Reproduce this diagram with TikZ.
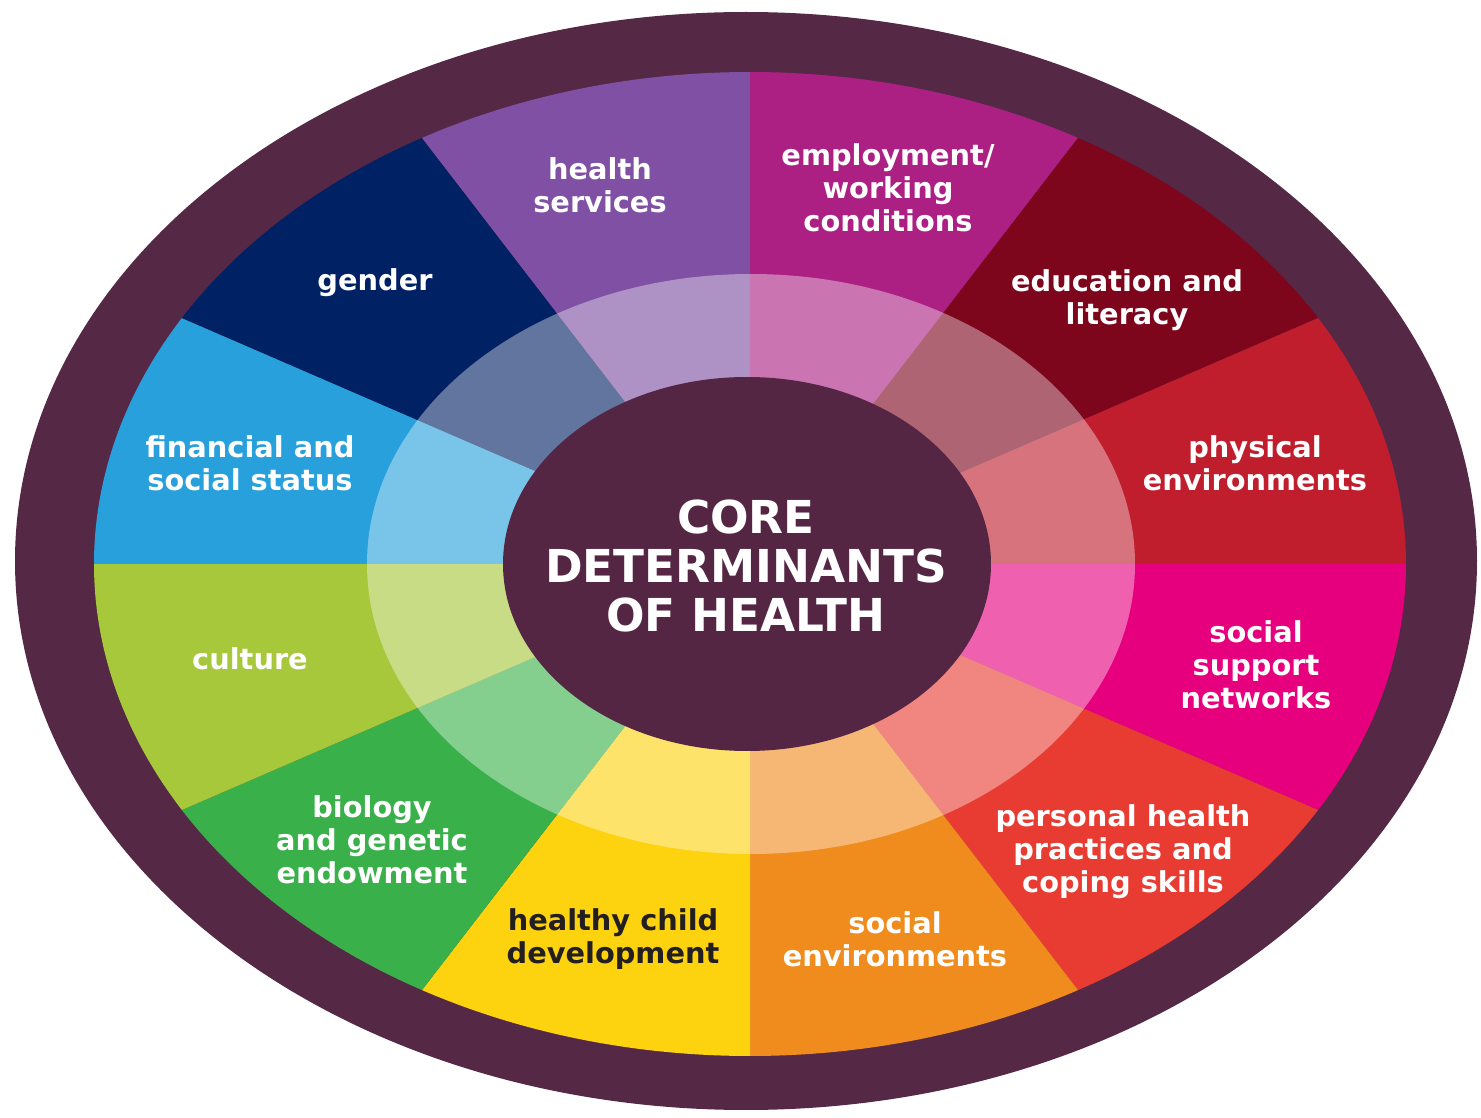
\documentclass[tikz,border=0pt]{standalone}
\usepackage{fontspec}
\newfontfamily\wheelfont{DejaVu Sans}
\definecolor{cRim}{RGB}{85,40,70}
\definecolor{cCore}{RGB}{84,38,68}
\definecolor{cHealth}{RGB}{127,80,163}
\definecolor{cEmploy}{RGB}{172,32,132}
\definecolor{cEduc}{RGB}{125,5,28}
\definecolor{cPhys}{RGB}{192,30,45}
\definecolor{cSupport}{RGB}{230,0,126}
\definecolor{cPractice}{RGB}{232,60,50}
\definecolor{cSocEnv}{RGB}{240,140,30}
\definecolor{cChild}{RGB}{253,210,15}
\definecolor{cBiology}{RGB}{57,176,74}
\definecolor{cCulture}{RGB}{166,200,58}
\definecolor{cFinance}{RGB}{40,160,220}
\definecolor{cGender}{RGB}{0,33,100}
\definecolor{cDark}{RGB}{35,31,32}

\begin{document}
\begin{tikzpicture}[x=0.1mm, y=0.1mm,
  lbl/.style={text=white, align=center, inner sep=0pt, font=\wheelfont\bfseries\fontsize{8.2}{9.4}\selectfont},
  ttl/.style={text=white, align=center, inner sep=0pt, font=\wheelfont\bfseries\fontsize{12.9}{14}\selectfont}]
	\useasboundingbox (0,0) rectangle (1481,1118);
	
	% 1. background and outer rim
	\fill[white] (0,0) rectangle (1481,1118);
	\fill[cRim] (746,557) ellipse[x radius=731, y radius=549];
	
	% 2. twelve sectors (angles in the stretched wheel)
	\begin{scope}[shift={(750,554)}]
		\fill[cEmploy]   (0,0) -- (90:656 and 492)  arc[start angle=90,  end angle=60,  x radius=656, y radius=492] -- cycle;
		\fill[cEduc]     (0,0) -- (60:656 and 492)  arc[start angle=60,  end angle=30,  x radius=656, y radius=492] -- cycle;
		\fill[cPhys]     (0,0) -- (30:656 and 492)  arc[start angle=30,  end angle=0,   x radius=656, y radius=492] -- cycle;
		\fill[cSupport]  (0,0) -- (0:656 and 492)   arc[start angle=0,   end angle=-30, x radius=656, y radius=492] -- cycle;
		\fill[cPractice] (0,0) -- (-30:656 and 492) arc[start angle=-30, end angle=-60, x radius=656, y radius=492] -- cycle;
		\fill[cSocEnv]   (0,0) -- (-60:656 and 492) arc[start angle=-60, end angle=-90, x radius=656, y radius=492] -- cycle;
		\fill[cChild]    (0,0) -- (-90:656 and 492) arc[start angle=-90, end angle=-120,x radius=656, y radius=492] -- cycle;
		\fill[cBiology]  (0,0) -- (240:656 and 492) arc[start angle=240, end angle=210, x radius=656, y radius=492] -- cycle;
		\fill[cCulture]  (0,0) -- (210:656 and 492) arc[start angle=210, end angle=180, x radius=656, y radius=492] -- cycle;
		\fill[cFinance]  (0,0) -- (180:656 and 492) arc[start angle=180, end angle=150, x radius=656, y radius=492] -- cycle;
		\fill[cGender]   (0,0) -- (150:656 and 492) arc[start angle=150, end angle=120, x radius=656, y radius=492] -- cycle;
		\fill[cHealth]   (0,0) -- (120:656 and 492) arc[start angle=120, end angle=90,  x radius=656, y radius=492] -- cycle;
		
		% 3. light ring and core
		\fill[white, fill opacity=0.38] (1,0) ellipse[x radius=384, y radius=290];
		\fill[cCore] (-3,0) ellipse[x radius=244, y radius=187];
	\end{scope}
	
	% 4. sector labels
	\node[lbl] (hs)   at (600,933)  {health\\services};
	\node[lbl] (emp)  at (888,930)  {employment/\\working\\conditions};
	\node[lbl] (edu)  at (1127,818) {education and\\literacy};
	\node[lbl] (phy)  at (1255,655) {physical\\environments};
	\node[lbl] (ssn)  at (1256,453) {social\\support\\networks};
	\node[lbl] (php)  at (1123,266) {personal health\\practices and\\coping skills};
	\node[lbl] (senv) at (895,179)  {social\\environments};
	\node[lbl, text=cDark] (hcd) at (613,179) {healthy child\\development};
	\node[lbl] (bio)  at (372,278)  {biology\\and genetic\\endowment};
	\node[lbl] (cul)  at (250,459)  {culture};
	\node[lbl] (fin)  at (250,655)  {financial and\\social status};
	\node[lbl] (gen)  at (375,835)  {gender};
	
	% 5. core title
	\node[ttl] (core) at (746,552) {CORE\\DETERMINANTS\\OF HEALTH};
\end{tikzpicture}
\end{document}
